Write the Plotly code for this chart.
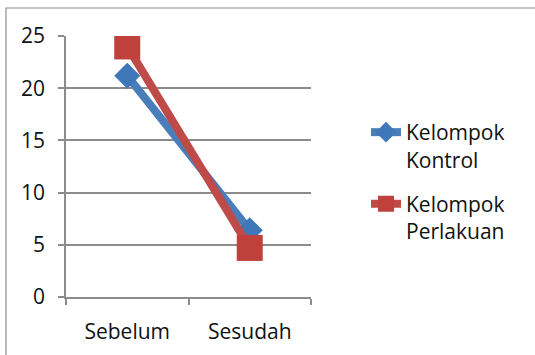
import plotly.graph_objects as go

categories = ["Sebelum", "Sesudah"]
kontrol = [21.2, 6.4]
perlakuan = [24.0, 4.7]
y_ticks = [0, 5, 10, 15, 20, 25]

FONT = "Open Sans"
FS = 21
L, R, T, B = 66, 224, 36, 58
W, H = 535, 355
pw, ph = W - L - R, H - T - B

def px2paper_x(px):
    return (px - L) / pw

def px2paper_y(py):
    return (H - B - py) / ph

fig = go.Figure()
fig.add_trace(go.Scatter(
    x=categories, y=kontrol, mode="lines+markers",
    name="Kelompok<br>Kontrol", legendgroup="g1",
    line=dict(color="#4a7ebb", width=8),
    marker=dict(symbol="diamond", size=20, color="#3f77ba"),
))
fig.add_trace(go.Scatter(
    x=categories, y=perlakuan, mode="lines+markers",
    name="Kelompok<br>Perlakuan", legendgroup="g2",
    line=dict(color="#be4b48", width=8),
    marker=dict(symbol="square", size=26, color="#c0403c"),
))

fig.add_shape(type="rect", xref="paper", yref="paper",
              x0=px2paper_x(6), x1=px2paper_x(600),
              y0=px2paper_y(400), y1=px2paper_y(8),
              line=dict(color="#8c8c8c", width=1.2), fillcolor="rgba(0,0,0,0)",
              layer="below")

fig.update_layout(
    width=W, height=H,
    margin=dict(l=L, r=R, t=T, b=B, autoexpand=False),
    paper_bgcolor="white", plot_bgcolor="white",
    font=dict(family=FONT, size=FS, color="#111111"),
    showlegend=True,
    legend=dict(
        x=px2paper_x(366), y=px2paper_y(112), xanchor="left", yanchor="top",
        valign="top", tracegroupgap=14, font=dict(family=FONT, size=FS),
        bgcolor="rgba(0,0,0,0)",
    ),
    xaxis=dict(
        type="category", range=[-0.5, 1.5],
        showgrid=False, showline=True, linecolor="#8c8c8c", linewidth=1.5,
        ticks="outside", tickson="boundaries", ticklen=6, tickcolor="#8c8c8c",
        tickwidth=1.5, tickfont=dict(family=FONT, size=FS), fixedrange=True,
        ticklabelstandoff=15,
    ),
    yaxis=dict(
        range=[0, 25], tickvals=y_ticks, showgrid=True, gridcolor="#8c8c8c",
        gridwidth=1.5, showline=True, linecolor="#8c8c8c", linewidth=1.5,
        ticks="outside", ticklen=6, tickcolor="#8c8c8c", tickwidth=1.5,
        tickfont=dict(family=FONT, size=FS), zeroline=False, fixedrange=True,
        ticklabelstandoff=9,
    ),
)

fig.write_html("out.html")
